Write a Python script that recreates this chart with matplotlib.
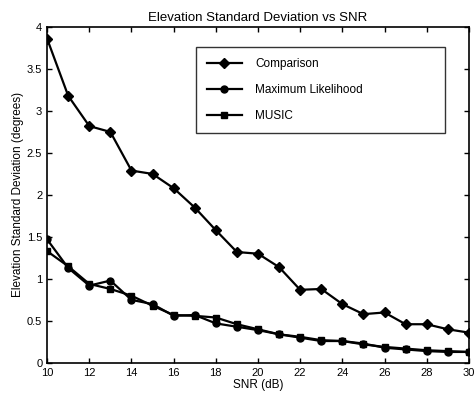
import matplotlib
matplotlib.use("Agg")
import matplotlib.pyplot as plt

plt.rcParams['font.family'] = ['Liberation Sans', 'DejaVu Sans']

snr = list(range(10, 31))
comparison = [3.86, 3.18, 2.82, 2.75, 2.29, 2.25, 2.08, 1.85, 1.58, 1.32, 1.30,
              1.14, 0.87, 0.88, 0.70, 0.58, 0.60, 0.46, 0.46, 0.40, 0.36]
max_likelihood = [1.47, 1.13, 0.92, 0.98, 0.75, 0.70, 0.56, 0.57, 0.47, 0.43, 0.39,
                  0.34, 0.30, 0.26, 0.26, 0.23, 0.18, 0.16, 0.14, 0.13, 0.13]
music = [1.33, 1.15, 0.94, 0.88, 0.80, 0.68, 0.57, 0.56, 0.54, 0.46, 0.40,
         0.34, 0.31, 0.27, 0.26, 0.22, 0.19, 0.17, 0.15, 0.14, 0.13]

fig = plt.figure(figsize=(4.76, 3.97), dpi=100)
ax = fig.add_axes([0.099, 0.086, 0.886, 0.846])

ax.plot(snr, comparison, 'k-', marker='D', markersize=5, linewidth=1.6, label='Comparison')
ax.plot(snr, max_likelihood, 'k-', marker='o', markersize=5, linewidth=1.6, label='Maximum Likelihood')
ax.plot(snr, music, 'k-', marker='s', markersize=4.5, linewidth=1.6, label='MUSIC')

ax.set_xlim(10, 30)
ax.set_ylim(0, 4)
ax.set_xticks(range(10, 31, 2))
ax.set_yticks([0, 0.5, 1, 1.5, 2, 2.5, 3, 3.5, 4])
ax.set_yticklabels(['0', '0.5', '1', '1.5', '2', '2.5', '3', '3.5', '4'])
ax.tick_params(direction='in', labelsize=8, top=True, right=True, width=1)
for s in ax.spines.values():
    s.set_linewidth(1.2)

ax.set_title('Elevation Standard Deviation vs SNR', fontsize=9.5, pad=4)
ax.set_xlabel('SNR (dB)', fontsize=8.5, labelpad=1)
ax.set_ylabel('Elevation Standard Deviation (degrees)', fontsize=8.5, labelpad=2)

# wide legend box, entries left-aligned like the original
leg = ax.legend(loc='upper left', bbox_to_anchor=(0.353, 0.70, 0.59, 0.24), mode='expand',
                fontsize=8.5, frameon=True, fancybox=False, edgecolor='black',
                handlelength=3, handletextpad=1.1, borderpad=0.9, borderaxespad=0,
                labelspacing=1.2)
leg.get_frame().set_linewidth(1.0)

fig.savefig('out.png', dpi=100)
